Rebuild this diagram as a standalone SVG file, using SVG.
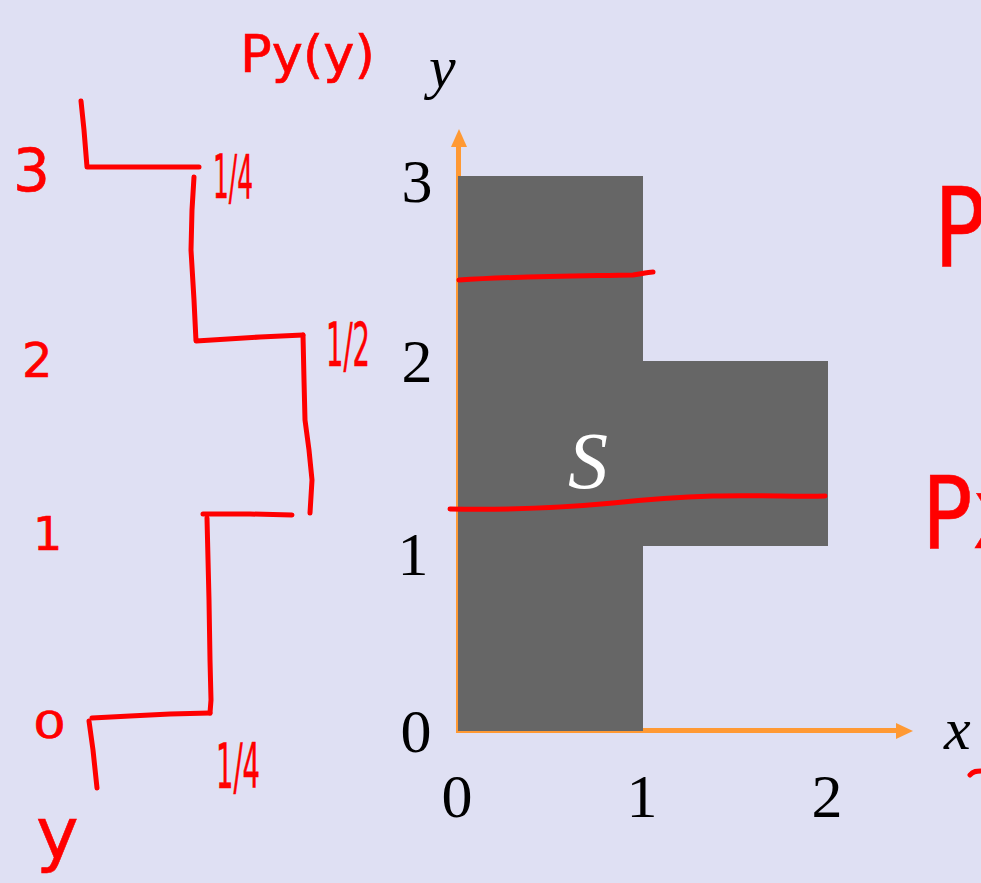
<svg xmlns="http://www.w3.org/2000/svg" width="981" height="883" viewBox="0 0 981 883">
<style>
.ax{stroke:#FF9933;stroke-width:5;fill:none}
.axh{fill:#FF9933}
.reg{fill:#666666}
.ink{stroke:#FF0000;stroke-width:5;fill:none;stroke-linecap:round;stroke-linejoin:round}
.num{font-family:"Liberation Serif",serif;font-size:62px;fill:#000;text-anchor:middle}
.it{font-family:"Liberation Serif",serif;font-style:italic;fill:#000}
.hw{font-family:"DejaVu Sans","Liberation Sans",sans-serif;fill:#FF0000;stroke:#FF0000;stroke-width:0.6}
</style>
<rect width="981" height="883" fill="#DFE0F3"/>
<g id="axes">
<line class="ax" x1="458.5" y1="733" x2="458.5" y2="145"/>
<polygon class="axh" points="459,129 451,147 467,147"/>
<line class="ax" x1="456" y1="730.5" x2="897" y2="730.5"/>
<polygon class="axh" points="913,731 896,723 896,739"/>
</g>
<g id="region">
<rect class="reg" x="458" y="176" width="185" height="555"/>
<rect class="reg" x="643" y="361" width="185" height="185"/>
<text class="it" x="588" y="488" font-size="80" style="fill:#fff" text-anchor="middle">S</text>
</g>
<g id="ticks">
<text class="num" x="417" y="202">3</text>
<text class="num" x="417" y="382">2</text>
<text class="num" x="413" y="575">1</text>
<text class="num" x="416" y="752">0</text>
<text class="num" x="457" y="817">0</text>
<text class="num" x="642" y="817">1</text>
<text class="num" x="827" y="817">2</text>
<text class="it" x="429" y="87" font-size="60">y</text>
<text class="it" x="944" y="749" font-size="60">x</text>
</g>
<g id="strokes">
<path class="ink" d="M459,280 C520,276 580,276 633,275 C640,274 648,272 653,272"/>
<path class="ink" d="M450,509 C500,510 560,508 613,503 C650,499 680,497 713,496 C760,495 800,497 825,496"/>
<path class="ink" d="M81,101 L84,130 L87,167 L199,167"/>
<path class="ink" d="M194,177 L192,210 L191,250 L194,300 L196,341 L260,337 L303,335"/>
<path class="ink" d="M303,335 L304,380 L305,420 L309,450 L312,480 L310,513"/>
<path class="ink" d="M203,514 L250,514 L292,515"/>
<path class="ink" d="M207,518 L209,600 L210,660 L211,700 L210,713"/>
<path class="ink" d="M210,713 L170,714 L130,716 L92,718"/>
<path class="ink" d="M89,721 L93,750 L97,788"/>
<path class="ink" d="M970,775 C973,771 977,771 981,771"/>
</g>
<g id="handwriting">
<text class="hw" x="240" y="72" font-size="52" textLength="135" lengthAdjust="spacingAndGlyphs">Py(y)</text>
<text class="hw" x="13" y="191" font-size="58">3</text>
<text class="hw" x="22" y="377" font-size="48">2</text>
<text class="hw" x="33" y="550" font-size="46">1</text>
<text class="hw" x="33" y="738" font-size="38" textLength="33" lengthAdjust="spacingAndGlyphs">0</text>
<text class="hw" x="36" y="858" font-size="72">y</text>
<text class="hw" x="213" y="198" font-size="60" textLength="40" lengthAdjust="spacingAndGlyphs">1/4</text>
<text class="hw" x="326" y="366" font-size="60" textLength="44" lengthAdjust="spacingAndGlyphs">1/2</text>
<text class="hw" x="216" y="788" font-size="62" textLength="44" lengthAdjust="spacingAndGlyphs">1/4</text>
<text class="hw" x="934" y="266" font-size="110" textLength="52" lengthAdjust="spacingAndGlyphs">P</text>
<text class="hw" x="922" y="548" font-size="100" textLength="100" lengthAdjust="spacingAndGlyphs">Px</text>
</g>
</svg>
